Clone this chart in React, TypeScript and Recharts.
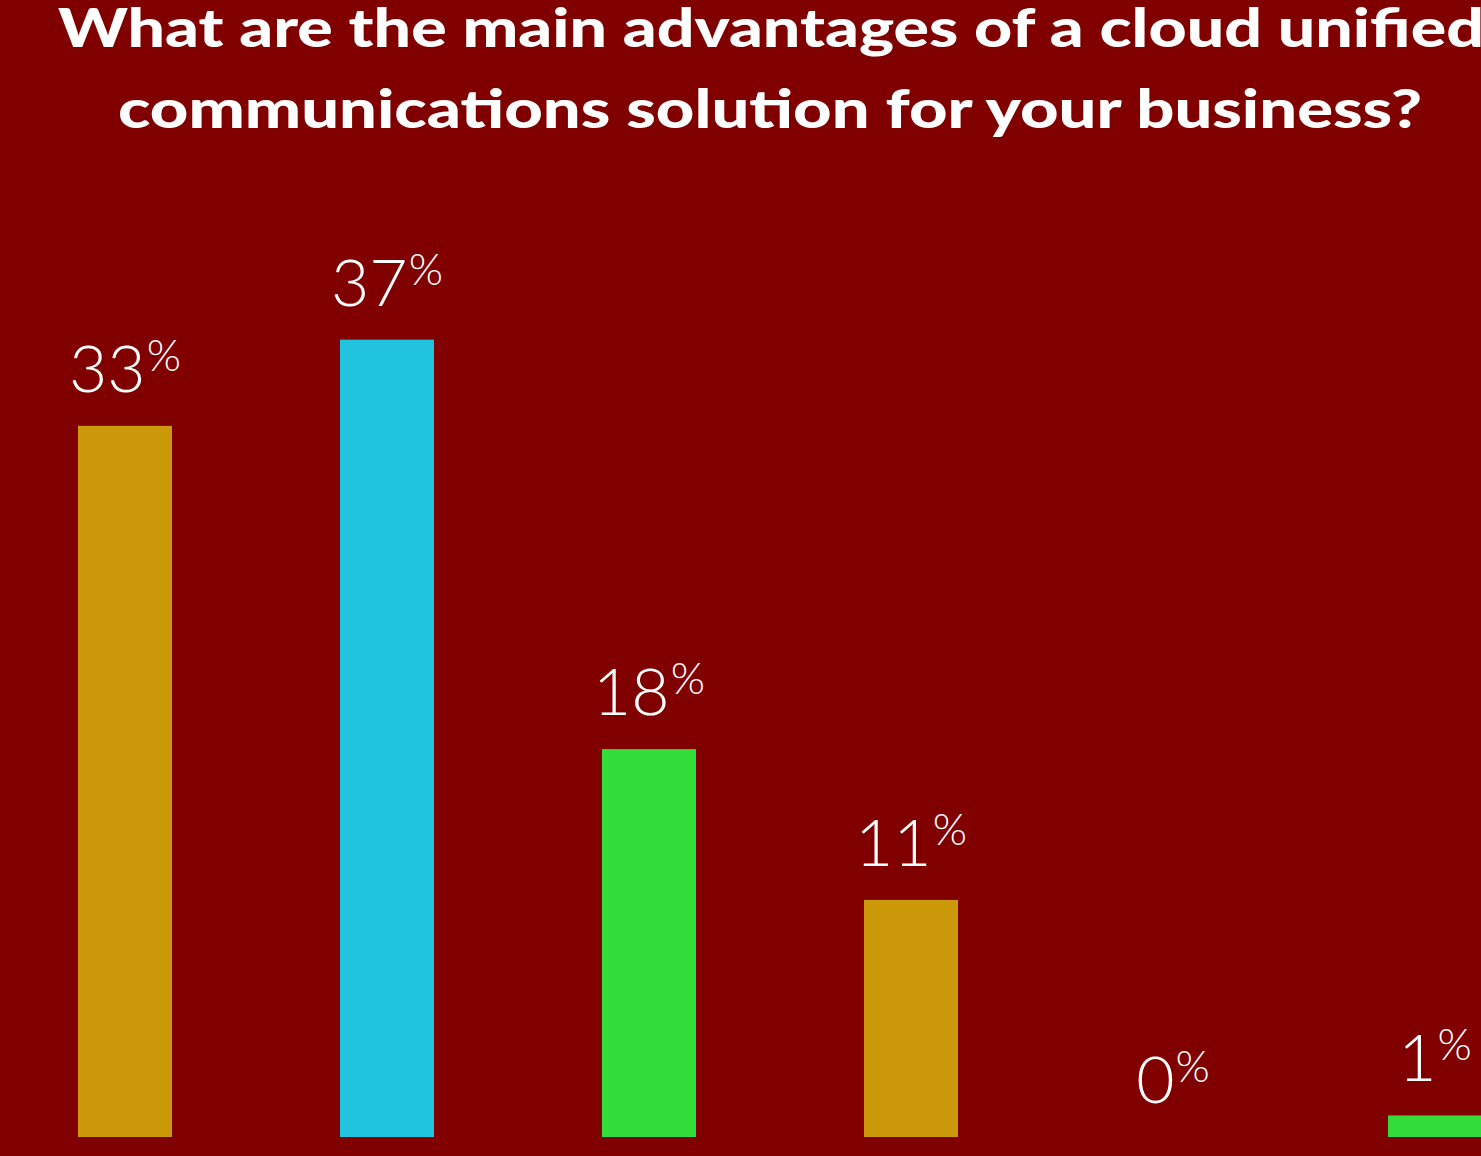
import { BarChart, Bar, XAxis, YAxis } from 'recharts';

const categories = ['Option A', 'Option B', 'Option C', 'Option D', 'Option E', 'Option F'];
const shares = [33, 37, 18, 11, 0, 1];
const barColors = ['#cc990a', '#20c4de', '#33de3a', '#cc990a', '#20c4de', '#33de3a'];
const titleLines = [
  'What are the main advantages of a cloud unified',
  'communications solution for your business?',
];

const chartData = categories.map((name, i) => ({ name, share: shares[i], color: barColors[i] }));

// bar + its percentage label; drawn together so the 0% bar still gets a label
function BarWithLabel(props: any) {
  const { x, y, width, height, payload } = props;
  const cx = Number(x) + Number(width) / 2;
  return (
    <g>
      {height > 0 && <rect x={x} y={y} width={width} height={height} fill={payload.color} />}
      <text
        x={cx}
        y={Number(y) - 34}
        textAnchor="middle"
        fill="#ffffff"
        fontFamily="Lato, 'Open Sans', sans-serif"
        fontWeight={300}
      >
        <tspan fontSize={66}>{payload.share}</tspan>
        <tspan fontSize={44} dx={1} dy={-21}>%</tspan>
      </text>
    </g>
  );
}

export default function App() {
  return (
    <div
      style={{
        position: 'fixed',
        left: 0,
        top: 0,
        width: 1481,
        height: 1156,
        overflow: 'hidden',
        background: '#800000',
      }}
    >
      <div style={{ position: 'absolute', left: -6, top: 0 }}>
        <BarChart
          width={1572}
          height={1156}
          data={chartData}
          margin={{ top: 275, right: 0, bottom: 19, left: 0 }}
        >
          <XAxis dataKey="name" hide />
          <YAxis hide domain={[0, 40]} />
          <Bar dataKey="share" barSize={94} isAnimationActive={false} shape={BarWithLabel} />
        </BarChart>
      </div>
      <svg
        width={1481}
        height={160}
        style={{ position: 'absolute', left: 0, top: 0, overflow: 'visible' }}
      >
        <text
          x={771}
          y={47}
          textAnchor="middle"
          fill="#ffffff"
          fontFamily="Lato, 'DejaVu Sans', sans-serif"
          fontWeight={900}
          fontSize={54}
          textLength={1426}
          lengthAdjust="spacingAndGlyphs"
        >
          {titleLines[0]}
        </text>
        <text
          x={770}
          y={128}
          textAnchor="middle"
          fill="#ffffff"
          fontFamily="Lato, 'DejaVu Sans', sans-serif"
          fontWeight={900}
          fontSize={54}
          textLength={1304}
          lengthAdjust="spacingAndGlyphs"
        >
          {titleLines[1]}
        </text>
      </svg>
    </div>
  );
}
